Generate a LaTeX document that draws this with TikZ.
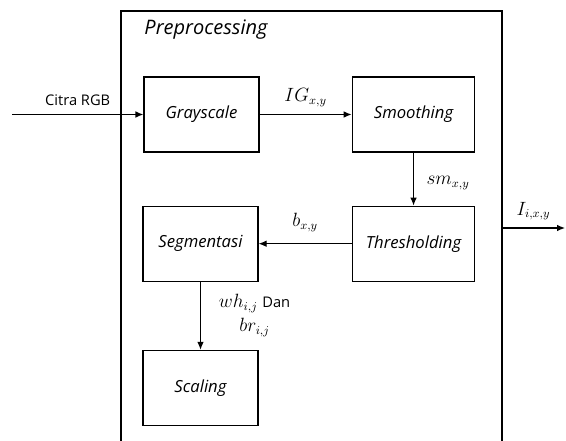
\documentclass[tikz,border=0pt]{standalone}
\usepackage{fontspec}
\setmainfont{Open Sans}
\usetikzlibrary{positioning,arrows.meta}
\newcommand{\idxxy}{x,y}
\newcommand{\idxij}{i,j}

\begin{document}
\begin{tikzpicture} [x=0.75pt,y=-0.75pt,
      proc/.style={draw,line width=0.9pt,minimum width=86.25pt,minimum height=56.25pt,inner sep=0pt,font=\fontsize{12.5}{15}\selectfont\itshape},
      procw/.style={proc,minimum width=92pt},
      flow/.style={-{Latex[length=6pt,width=5pt]},line width=0.9pt},
      lbl/.style={font=\fontsize{13.5}{16}\selectfont}]
      \useasboundingbox (0,0) rectangle (566,441);

      \draw[line width=0.9pt] (121,441) -- (121,11) -- (502,11) -- (502,441);
      \node (title) [font=\fontsize{15}{18}\selectfont\itshape] at (206,30) {Preprocessing};

      \node (gray) [proc] at (201.5,114.5) {Grayscale};
      \node (smooth) [procw,right=69pt of gray] {Smoothing};
      \node (thres) [procw,below=39.75pt of smooth] {Thresholding};
      \node (seg) [proc,left=69.75pt of thres] {Segmentasi};
      \node (scale) [proc,below=51pt of seg] {Scaling};

      \coordinate (inL) at (12,114.5);
      \coordinate (outL) at (502,228);
      \coordinate (outR) at (565,228);

      \draw[flow] (inL) -- node[above=3pt,font=\fontsize{11}{13}\selectfont] {Citra RGB} (gray);
      \draw[flow] (gray) -- node[lbl,above=2pt] {$IG_{\idxxy}$} (smooth);
      \draw[flow] (smooth) -- node[lbl,right=6pt,yshift=-3pt] {$sm_{\idxxy}$} (thres);
      \draw[flow] (thres) -- node[lbl,above=5pt] {$b_{\idxxy}$} (seg);
      \draw[flow] (seg) -- node[lbl,right=10pt,align=center] {$wh_{\idxij}$ \fontsize{11}{13}\selectfont Dan\\[2pt]$br_{\idxij}$} (scale);
      \draw[flow] (outL) -- node[lbl,above=2pt] {$I_{i,x,y}$} (outR);
    \end{tikzpicture}
\end{document}
